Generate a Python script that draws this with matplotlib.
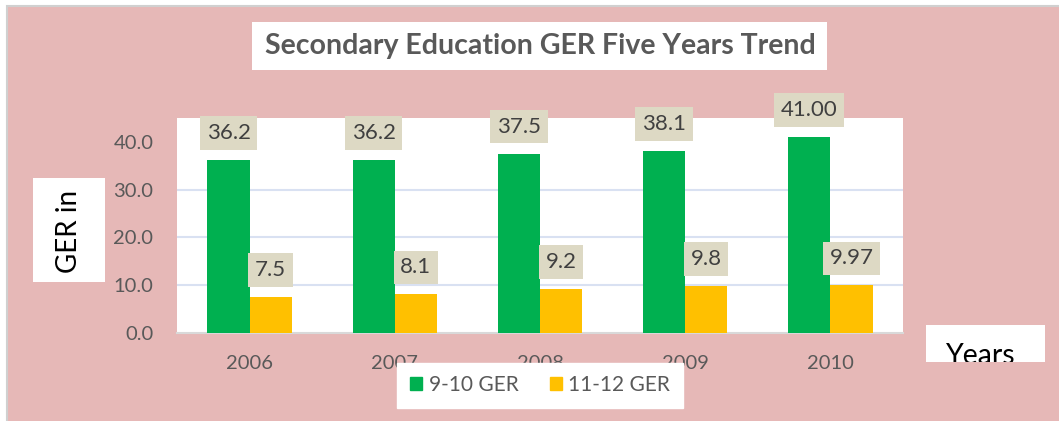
import numpy as np
import matplotlib
matplotlib.use("Agg")
import matplotlib.pyplot as plt
from matplotlib.patches import Rectangle, Patch

years = ["2006", "2007", "2008", "2009", "2010"]
ger_9_10 = [36.2, 36.2, 37.5, 38.1, 41.0]
ger_11_12 = [7.5, 8.1, 9.2, 9.8, 9.97]
lab_9_10 = ["36.2", "36.2", "37.5", "38.1", "41.00"]
lab_11_12 = ["7.5", "8.1", "9.2", "9.8", "9.97"]

W, H = 1059, 421
green = "#00B050"
yellow = "#FFC000"
pink = "#E6B8B7"
txt = "#595959"
plt.rcParams["font.family"] = ["Lato", "DejaVu Sans"]

fig = plt.figure(figsize=(W / 100, H / 100), dpi=100)
fig.patch.set_facecolor("white")

def px(x0, y0, x1, y1):
    # pixel box (top-left origin) -> figure fraction rect
    return (x0 / W, 1 - y1 / H, (x1 - x0) / W, (y1 - y0) / H)

# pink chart background with thin grey border
bx = px(7, 6, 1062, 425)
fig.patches.append(Rectangle(bx[:2], bx[2], bx[3], transform=fig.transFigure,
                             fc=pink, ec="#D0D0D0", lw=1.5, zorder=-5))

ax = fig.add_axes(px(177, 118, 903, 333))
ax.set_facecolor("white")
x = np.arange(len(years))
bw = 0.29
ax.bar(x - bw / 2, ger_9_10, bw, color=green, zorder=3)
ax.bar(x + bw / 2, ger_11_12, bw, color=yellow, zorder=3)
ax.set_xlim(-0.5, 4.5)
ax.set_ylim(0, 45)
ax.set_yticks([0, 10, 20, 30, 40])
ax.set_yticklabels(["0.0", "10.0", "20.0", "30.0", "40.0"])
ax.set_xticks(x)
ax.set_xticklabels(years)
for g in [10, 20, 30]:
    ax.axhline(g, color="#D9E1F2", lw=1.5, zorder=1)
for s in ["top", "right", "left"]:
    ax.spines[s].set_visible(False)
ax.spines["bottom"].set_color("#D9D9D9")
ax.spines["bottom"].set_linewidth(1.5)
ax.tick_params(axis="both", length=0, labelsize=14.5, colors=txt)
ax.tick_params(axis="x", pad=16)
ax.tick_params(axis="y", pad=17)

box = dict(boxstyle="square,pad=0.3", fc="#DDD9C4", ec="none")
for i in range(len(years)):
    ax.annotate(lab_9_10[i], (x[i] - bw / 2, ger_9_10[i]), xytext=(0, 19.5),
                textcoords="offset points", ha="center", va="center",
                fontsize=16, color="#404040", bbox=box, zorder=5)
    ax.annotate(lab_11_12[i], (x[i] + bw / 2, ger_11_12[i]), xytext=(0, 19.5),
                textcoords="offset points", ha="center", va="center",
                fontsize=16, color="#404040", bbox=box, zorder=5)

# title box
tb = px(252, 22, 827, 70)
fig.patches.append(Rectangle(tb[:2], tb[2], tb[3], transform=fig.transFigure,
                             fc="white", ec="none"))
fig.text(540 / W, 1 - 46 / H, "Secondary Education GER Five Years Trend",
         ha="center", va="center", fontsize=20.5, fontweight="bold", color=txt)

# y label box
yb = px(33, 178, 105, 282)
fig.patches.append(Rectangle(yb[:2], yb[2], yb[3], transform=fig.transFigure,
                             fc="white", ec="none"))
fig.text(69 / W, 1 - 231 / H, "GER in", rotation=90, ha="center", va="center",
         fontsize=20, color="black")

# "Years" box, text cut at the bottom like the original
yrb = px(926, 325, 1045, 362)
yr_patch = Rectangle(yrb[:2], yrb[2], yrb[3], transform=fig.transFigure,
                     fc="white", ec="none")
fig.patches.append(yr_patch)
t = fig.text(946 / W, 1 - 343 / H, "Years", ha="left", va="top",
             fontsize=20.5, color="black")
t.set_clip_path(yr_patch)

handles = [Patch(color=green, label="9-10 GER"), Patch(color=yellow, label="11-12 GER")]
leg = fig.legend(handles=handles, loc="center", bbox_to_anchor=(540 / W, 1 - 385 / H),
                 ncol=2, frameon=True, fontsize=15, handlelength=0.6, handleheight=0.6,
                 handletextpad=0.3, columnspacing=1.5, borderpad=0.6, fancybox=False)
leg.get_frame().set_facecolor("white")
leg.get_frame().set_edgecolor("white")
leg.get_frame().set_alpha(1)
for tx in leg.get_texts():
    tx.set_color(txt)

fig.savefig("out.png", dpi=100)
